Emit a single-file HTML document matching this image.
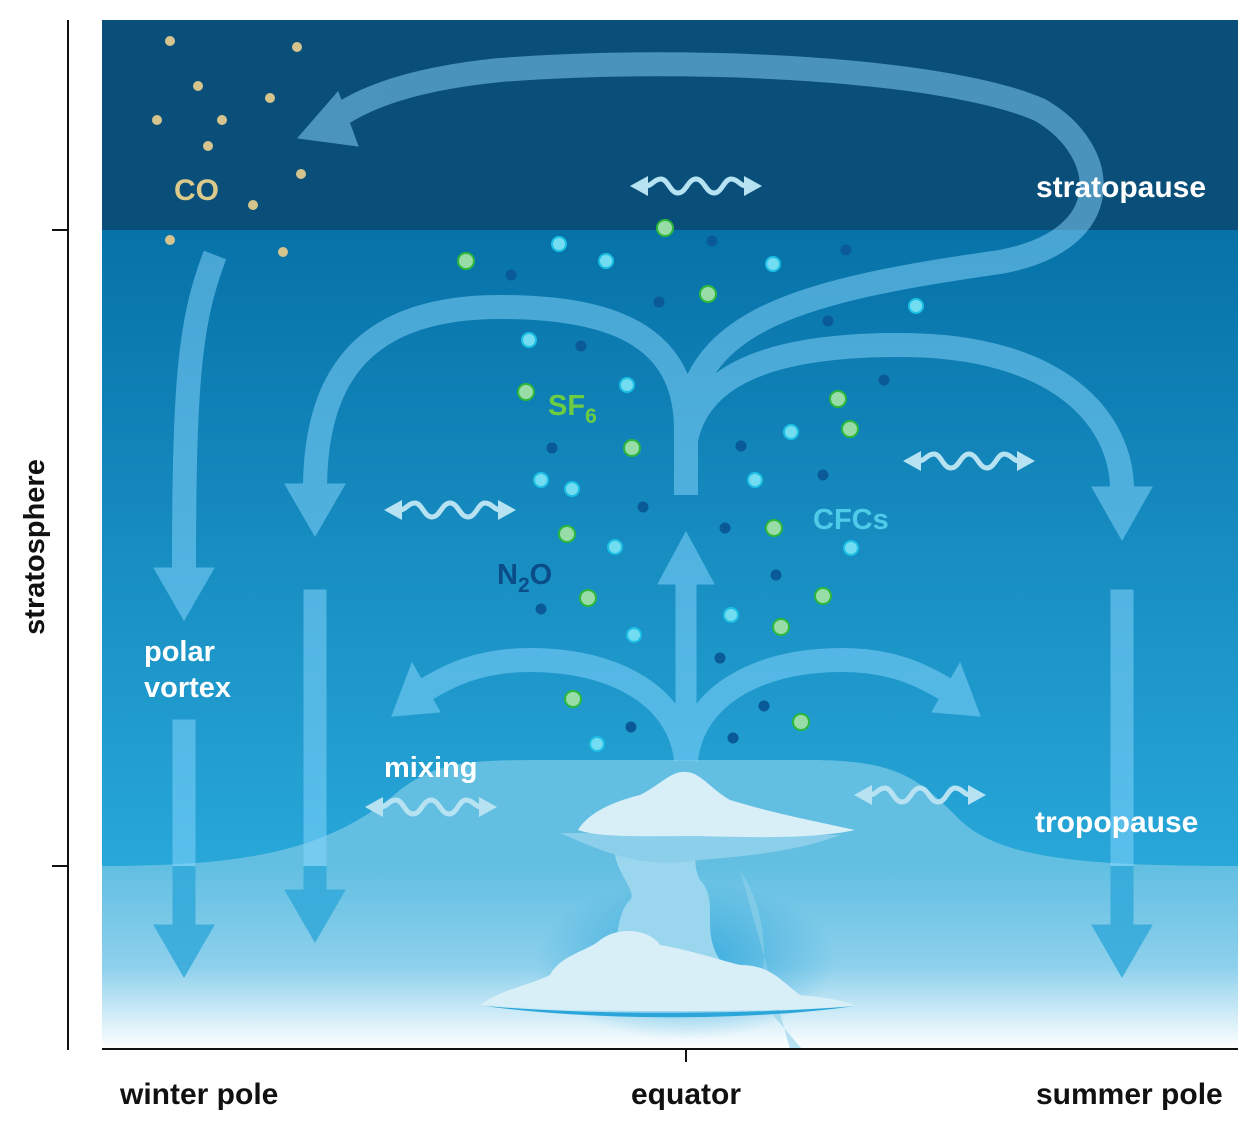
<!DOCTYPE html>
<html><head><meta charset="utf-8"><style>
html,body{margin:0;padding:0;background:#fff;}
svg{display:block;font-family:"Liberation Sans",sans-serif;font-weight:bold;}
</style></head><body>
<svg width="1260" height="1130" viewBox="0 0 1260 1130" xmlns="http://www.w3.org/2000/svg">
<defs>
<linearGradient id="strat" x1="0" y1="0" x2="0" y2="1">
<stop offset="0" stop-color="#0672a8"/><stop offset="1" stop-color="#28a7d9"/>
</linearGradient>
<linearGradient id="trop" x1="0" y1="0" x2="0" y2="1">
<stop offset="0" stop-color="#62bfe2"/><stop offset="0.55" stop-color="#8dd0ec"/><stop offset="1" stop-color="#ffffff"/>
</linearGradient>
<radialGradient id="glow" cx="0.5" cy="0.5" r="0.5">
<stop offset="0" stop-color="#2aa6da" stop-opacity="0.9"/><stop offset="1" stop-color="#2aa6da" stop-opacity="0"/>
</radialGradient>
<clipPath id="top"><rect x="0" y="0" width="1260" height="866"/></clipPath>
<clipPath id="bot"><rect x="0" y="866" width="1260" height="264"/></clipPath>
<g id="wave">
<path d="M-50,0 C-44,0 -42,-7 -35,-7 C-28,-7 -26,7 -18,7 C-10,7 -8,-7 0,-7 C8,-7 10,7 18,7 C26,7 28,-7 35,-7 C42,-7 44,0 50,0" fill="none" stroke="#b6e2f2" stroke-width="5"/>
<polygon points="-66,0 -48,-10 -48,10" fill="#b6e2f2"/>
<polygon points="66,0 48,-10 48,10" fill="#b6e2f2"/>
</g>
<g id="arrows">
<g fill="none" stroke-width="24">
<path d="M686,495 L686,420 C700,320 800,290 1000,262 C1120,240 1110,150 1040,110 C950,70 700,55 500,70 C420,78 370,95 340,115"/>
<path d="M686,430 C686,340 620,307 500,307 C360,307 315,380 315,490"/>
<path d="M686,440 C700,370 780,345 900,345 C1060,345 1122,420 1122,490"/>
<path d="M215,255 C190,320 184,380 184,570"/>
<path d="M686,760 C680,700 620,660 530,660 C480,660 450,675 425,690"/>
<path d="M686,760 C692,700 752,660 842,660 C892,660 922,675 947,690"/>
</g>
<polygon points="298,138 338,92 358,146"/>
<polygon points="285,484 345,484 315,536"/>
<polygon points="1092,487 1152,487 1122,540"/>
<polygon points="154,568 214,568 184,620"/>
<polygon points="392,716 412,663 440,712"/>
<polygon points="980,716 960,663 932,712"/>
<rect x="676" y="582" width="20" height="178"/>
<polygon points="686,532 658,584 714,584"/>
<rect x="304" y="590" width="22" height="300"/>
<polygon points="285,890 345,890 315,942"/>
<rect x="173" y="720" width="22" height="205"/>
<polygon points="154,925 214,925 184,977"/>
<rect x="1111" y="590" width="22" height="335"/>
<polygon points="1092,925 1152,925 1122,977"/>
</g>
</defs>
<rect x="102" y="230" width="1136" height="636" fill="url(#strat)"/>
<rect x="102" y="20" width="1136" height="210" fill="#0a4f7a"/>
<rect x="102" y="866" width="1136" height="183" fill="url(#trop)"/>
<path d="M102,866 C250,866 330,850 400,790 C440,760 470,760 560,760 L810,760 C900,760 920,780 960,820 C1000,858 1080,866 1238,866 L1238,870 L102,870 Z" fill="#62bfe2"/>
<ellipse cx="686" cy="960" rx="150" ry="80" fill="url(#glow)"/>

<g opacity="0.5" fill="#8ad8ff" stroke="#8ad8ff" clip-path="url(#top)"><use href="#arrows" stroke="#8ad8ff"/></g>
<g opacity="0.8" fill="#2ea8da" stroke="#2ea8da" clip-path="url(#bot)"><use href="#arrows"/></g>

<g>
<path d="M760,1000 C770,940 760,900 740,870 L790,1049 L802,1049 Z" fill="#8fd0ea" opacity="0.6"/>
<path d="M620,830 C600,860 640,890 630,900 C615,915 620,940 610,960 L720,960 C700,930 720,900 700,880 C690,860 700,840 690,830 Z" fill="#9ad6ee"/>
<path d="M560,833 C600,850 640,870 700,860 C760,855 800,850 840,835 Z" fill="#8ccfea"/>
<path d="M578,830 C590,810 620,800 640,795 C660,785 672,770 686,772 C700,772 712,790 730,800 C780,815 820,822 855,830 C820,838 760,838 700,836 C650,836 600,838 578,830 Z" fill="#d8eff8"/>
<path d="M480,1005 C500,990 530,985 550,975 C560,955 590,950 600,940 C620,925 650,930 660,945 C690,950 720,960 740,965 C770,965 780,980 800,995 C830,998 850,1002 855,1006 C780,1012 600,1014 480,1005 Z" fill="#d8eff8"/>
<path d="M485,1006 C600,1016 760,1014 855,1006 C760,1020 600,1022 485,1006 Z" fill="#2aa6da"/>
</g>

<use href="#wave" x="696" y="186"/>
<use href="#wave" x="450" y="510"/>
<use href="#wave" x="969" y="461"/>
<use href="#wave" x="431" y="807"/>
<use href="#wave" x="920" y="795"/>

<g fill="#d6c48e">
<circle cx="170" cy="41" r="5"/><circle cx="297" cy="47" r="5"/><circle cx="198" cy="86" r="5"/><circle cx="270" cy="98" r="5"/><circle cx="157" cy="120" r="5"/><circle cx="222" cy="120" r="5"/><circle cx="208" cy="146" r="5"/><circle cx="301" cy="174" r="5"/><circle cx="253" cy="205" r="5"/><circle cx="170" cy="240" r="5"/><circle cx="283" cy="252" r="5"/>
</g>
<g fill="#0a5a98">
<circle cx="712" cy="241" r="5.5"/><circle cx="846" cy="250" r="5.5"/><circle cx="511" cy="275" r="5.5"/><circle cx="659" cy="302" r="5.5"/><circle cx="828" cy="321" r="5.5"/><circle cx="581" cy="346" r="5.5"/><circle cx="884" cy="380" r="5.5"/><circle cx="552" cy="448" r="5.5"/><circle cx="741" cy="446" r="5.5"/><circle cx="823" cy="475" r="5.5"/><circle cx="643" cy="507" r="5.5"/><circle cx="725" cy="528" r="5.5"/><circle cx="776" cy="575" r="5.5"/><circle cx="541" cy="609" r="5.5"/><circle cx="720" cy="658" r="5.5"/><circle cx="764" cy="706" r="5.5"/><circle cx="631" cy="727" r="5.5"/><circle cx="733" cy="738" r="5.5"/>
</g>
<g fill="#72dcf0" stroke="#1cc0e4" stroke-width="2">
<circle cx="559" cy="244" r="7"/><circle cx="606" cy="261" r="7"/><circle cx="773" cy="264" r="7"/><circle cx="916" cy="306" r="7"/><circle cx="529" cy="340" r="7"/><circle cx="627" cy="385" r="7"/><circle cx="791" cy="432" r="7"/><circle cx="755" cy="480" r="7"/><circle cx="541" cy="480" r="7"/><circle cx="572" cy="489" r="7"/><circle cx="615" cy="547" r="7"/><circle cx="851" cy="548" r="7"/><circle cx="731" cy="615" r="7"/><circle cx="634" cy="635" r="7"/><circle cx="597" cy="744" r="7"/>
</g>
<g fill="#98dca8" stroke="#2cb83a" stroke-width="2">
<circle cx="466" cy="261" r="8"/><circle cx="665" cy="228" r="8"/><circle cx="708" cy="294" r="8"/><circle cx="526" cy="392" r="8"/><circle cx="632" cy="448" r="8"/><circle cx="838" cy="399" r="8"/><circle cx="850" cy="429" r="8"/><circle cx="567" cy="534" r="8"/><circle cx="774" cy="528" r="8"/><circle cx="588" cy="598" r="8"/><circle cx="823" cy="596" r="8"/><circle cx="781" cy="627" r="8"/><circle cx="573" cy="699" r="8"/><circle cx="801" cy="722" r="8"/>
</g>

<text x="174" y="200" font-size="30" fill="#dcc98c">CO</text>
<text x="1036" y="197" font-size="30" fill="#ffffff">stratopause</text>
<text x="548" y="415" font-size="29" fill="#6ccd42">SF<tspan font-size="21" dy="8">6</tspan></text>
<text x="813" y="529" font-size="29" fill="#4fcbea">CFCs</text>
<text x="497" y="584" font-size="29" fill="#0a4d88">N<tspan font-size="21" dy="8">2</tspan><tspan dy="-8">O</tspan></text>
<text x="144" y="661" font-size="29" fill="#ffffff">polar</text>
<text x="144" y="697" font-size="29" fill="#ffffff">vortex</text>
<text x="384" y="777" font-size="29" fill="#ffffff">mixing</text>
<text x="1035" y="832" font-size="30" fill="#ffffff">tropopause</text>

<g stroke="#111" stroke-width="2">
<line x1="68" y1="20" x2="68" y2="1050"/>
<line x1="52" y1="230" x2="68" y2="230"/>
<line x1="52" y1="866" x2="68" y2="866"/>
<line x1="102" y1="1049" x2="1238" y2="1049"/>
<line x1="686" y1="1049" x2="686" y2="1062"/>
</g>
<text transform="translate(44,547) rotate(-90)" text-anchor="middle" font-size="29" fill="#111">stratosphere</text>
<text x="120" y="1104" font-size="30" fill="#111">winter pole</text>
<text x="686" y="1104" font-size="30" fill="#111" text-anchor="middle">equator</text>
<text x="1036" y="1104" font-size="30" fill="#111">summer pole</text>
</svg>
</body></html>
